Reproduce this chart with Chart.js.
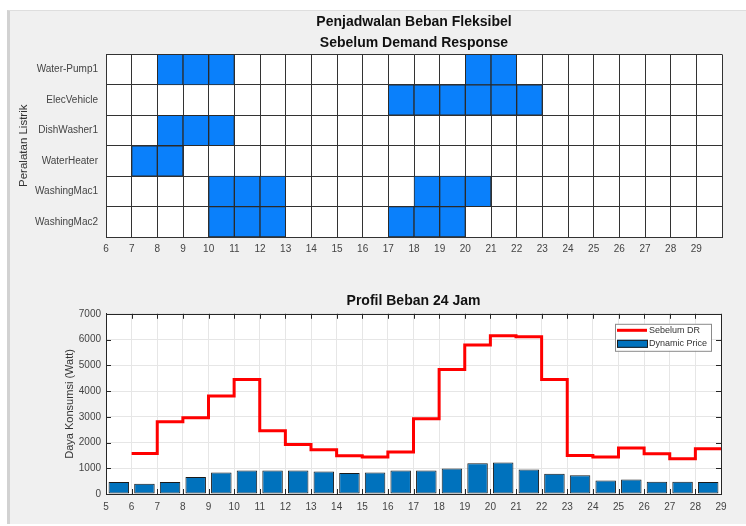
<!DOCTYPE html>
<html><head><meta charset="utf-8">
<script src="https://cdn.jsdelivr.net/npm/chart.js@4.4.1/dist/chart.umd.min.js"></script>
<style>
html,body{margin:0;padding:0;background:#fff;width:746px;height:526px;overflow:hidden;}
#panel{position:absolute;left:7px;top:10px;width:739px;height:514px;background:#f0f0f0;border-left:3px solid #d2d2d2;border-top:1px solid #dedede;box-sizing:border-box;}
#c1{position:absolute;left:0;top:0;}
#c2{position:absolute;left:0;top:263px;}
</style></head><body>
<div id="panel"></div>
<canvas id="c1" width="746" height="263"></canvas>
<canvas id="c2" width="746" height="263"></canvas>
<script>
// ---- Top chart data (schedule) ----
const scheduleTitle = ['Penjadwalan Beban Fleksibel', 'Sebelum Demand Response'];
const appliances = ['Water-Pump1', 'ElecVehicle', 'DishWasher1', 'WaterHeater', 'WashingMac1', 'WashingMac2'];
const waterPump1Hours = [8, 9, 10, 20, 21];
const elecVehicleHours = [17, 18, 19, 20, 21, 22];
const dishWasher1Hours = [8, 9, 10];
const waterHeaterHours = [7, 8];
const washingMac1Hours = [10, 11, 12, 18, 19, 20];
const washingMac2Hours = [10, 11, 12, 17, 18, 19];
const scheduleMin = 6, scheduleMax = 30;

// ---- Bottom chart data (load profile) ----
const profileTitle = 'Profil Beban 24 Jam';
const profileHours = [6, 7, 8, 9, 10, 11, 12, 13, 14, 15, 16, 17, 18, 19, 20, 21, 22, 23, 24, 25, 26, 27, 28];
const sebelumDR = [1570, 2810, 2960, 3810, 4450, 2460, 1920, 1720, 1490, 1440, 1630, 2920, 4840, 5790, 6150, 6110, 4450, 1500, 1440, 1790, 1560, 1370, 1760];
const priceHours = [5, 6, 7, 8, 9, 10, 11, 12, 13, 14, 15, 16, 17, 18, 19, 20, 21, 22, 23, 24, 25, 26, 27, 28];
const dynamicPrice = [470, 400, 470, 660, 840, 910, 910, 910, 870, 820, 840, 910, 910, 990, 1190, 1220, 950, 790, 730, 520, 560, 480, 480, 470];

const FONT = "'Liberation Sans', Arial, Helvetica, sans-serif";
Chart.defaults.font.family = FONT;
Chart.defaults.color = '#333';

const whiteArea = {
  id: 'whiteArea',
  beforeDraw(chart) {
    const { ctx, chartArea: a } = chart;
    ctx.save();
    ctx.fillStyle = '#ffffff';
    ctx.fillRect(a.left, a.top, a.right - a.left, a.bottom - a.top);
    ctx.restore();
  }
};

// build floating-bar cells
const scheduleHours = [waterPump1Hours, elecVehicleHours, dishWasher1Hours, waterHeaterHours, washingMac1Hours, washingMac2Hours];
const cellData = [];
appliances.forEach((name, i) => {
  scheduleHours[i].forEach(h => cellData.push({ x: [h, h + 1], y: name }));
});

new Chart(document.getElementById('c1'), {
  type: 'bar',
  data: {
    labels: appliances,
    datasets: [{
      label: 'Jadwal',
      data: cellData,
      backgroundColor: '#0a80fb',
      borderColor: '#2a2a2a',
      borderWidth: 1,
      borderSkipped: false,
      barPercentage: 1,
      categoryPercentage: 1
    }]
  },
  options: {
    indexAxis: 'y',
    responsive: false,
    animation: false,
    layout: { padding: { left: 0, right: 24, top: 0, bottom: 0 } },
    plugins: {
      legend: { display: false },
      tooltip: { enabled: false },
      title: {
        display: true, fullSize: false, text: scheduleTitle, color: '#111',
        font: { size: 14, weight: 'bold', lineHeight: 1.48 },
        padding: { top: 12, bottom: 1 }
      }
    },
    scales: {
      x: {
        type: 'linear', min: scheduleMin, max: scheduleMax, offset: false,
        ticks: { stepSize: 1, autoSkip: false, maxRotation: 0, padding: 6, font: { size: 10 }, color: '#444',
          callback: v => (v === scheduleMax ? '' : String(v)) },
        grid: { color: '#333', drawTicks: false, offset: false },
        border: { color: '#333' },
        afterFit(s) { s.height = 26; }
      },
      y: {
        type: 'category', offset: true,
        grid: { offset: true, color: '#333', drawTicks: false },
        border: { color: '#333' },
        ticks: { padding: 8, font: { size: 10 }, color: '#444' },
        title: { display: true, text: 'Peralatan Listrik', font: { size: 11.5 }, color: '#333', padding: { top: 17, bottom: 0 } },
        afterFit(s) { s.width = 106; }
      }
    }
  },
  plugins: [whiteArea]
});

// ---- bottom chart ----
const lineData = profileHours.map((h, i) => ({ x: h, y: sebelumDR[i] }));
lineData.push({ x: profileHours[profileHours.length - 1] + 1, y: sebelumDR[sebelumDR.length - 1] });
const barData = priceHours.map((h, i) => ({ x: h + 0.5, y: dynamicPrice[i] }));

const boxTicks = {
  id: 'boxTicks',
  afterDraw(chart) {
    const { ctx, chartArea: a, scales } = chart;
    ctx.save();
    ctx.strokeStyle = '#262626';
    ctx.lineWidth = 1;
    ctx.beginPath();
    scales.x.ticks.forEach(t => {
      const px = Math.round(scales.x.getPixelForValue(t.value)) + 0.5;
      ctx.moveTo(px, a.top); ctx.lineTo(px, a.top + 5);
      ctx.moveTo(px, a.bottom); ctx.lineTo(px, a.bottom - 5);
    });
    scales.y.ticks.forEach(t => {
      const py = Math.round(scales.y.getPixelForValue(t.value)) + 0.5;
      ctx.moveTo(a.left, py); ctx.lineTo(a.left + 5, py);
      ctx.moveTo(a.right, py); ctx.lineTo(a.right - 5, py);
    });
    ctx.stroke();
    ctx.strokeRect(Math.round(a.left) + 0.5, Math.round(a.top) + 0.5, Math.round(a.right - a.left), Math.round(a.bottom - a.top));
    ctx.restore();
  }
};

const legendBox = {
  id: 'legendBox',
  afterDraw(chart) {
    const { ctx, chartArea: a } = chart;
    const ds = chart.data.datasets;
    const right = a.right - 10, top = a.top + 10, w = 96, h = 27;
    const left = right - w;
    ctx.save();
    ctx.fillStyle = '#fff';
    ctx.fillRect(left, top, w, h);
    ctx.strokeStyle = '#8a8a8a';
    ctx.lineWidth = 1;
    ctx.strokeRect(left + 0.5, top + 0.5, w, h);
    ctx.strokeStyle = ds[0].borderColor;
    ctx.lineWidth = 3;
    ctx.beginPath();
    ctx.moveTo(left + 2, top + 6.5); ctx.lineTo(left + 32, top + 6.5);
    ctx.stroke();
    ctx.fillStyle = ds[1].backgroundColor;
    ctx.fillRect(left + 2, top + 16, 31, 8);
    ctx.strokeStyle = '#1a1a1a';
    ctx.lineWidth = 1;
    ctx.strokeRect(left + 2.5, top + 16.5, 30, 7);
    ctx.fillStyle = '#333';
    ctx.font = '9px ' + FONT;
    ctx.textBaseline = 'middle';
    ctx.textAlign = 'left';
    ctx.fillText(ds[0].label, left + 34, top + 7);
    ctx.fillText(ds[1].label, left + 34, top + 20);
    ctx.restore();
  }
};

new Chart(document.getElementById('c2'), {
  data: {
    datasets: [
      { type: 'line', label: 'Sebelum DR', data: lineData, stepped: 'before', borderColor: '#ff0000', borderWidth: 3,
        pointRadius: 0, fill: false, order: 0 },
      { type: 'bar', label: 'Dynamic Price', data: barData, backgroundColor: '#0072bd', borderColor: '#1a1a1a',
        borderWidth: 1, borderSkipped: false, barPercentage: 0.8, categoryPercentage: 1, order: 1 }
    ]
  },
  options: {
    responsive: false,
    animation: false,
    layout: { padding: { left: 0, right: 25, top: 0, bottom: 0 } },
    plugins: {
      legend: { display: false },
      tooltip: { enabled: false },
      title: {
        display: true, fullSize: false, text: profileTitle, color: '#111',
        font: { size: 14, weight: 'bold', lineHeight: 1.2 },
        padding: { top: 30, bottom: 4 }
      }
    },
    scales: {
      x: {
        type: 'linear', min: 5, max: 29, offset: false,
        ticks: { stepSize: 1, autoSkip: false, maxRotation: 0, padding: 7, font: { size: 10 }, color: '#444',
          callback: v => String(v) },
        grid: { color: '#e6e6e6', drawTicks: false, offset: false },
        border: { color: '#262626' },
        afterFit(s) { s.height = 32; }
      },
      y: {
        type: 'linear', min: 0, max: 7000,
        ticks: { stepSize: 1000, padding: 5, font: { size: 10 }, color: '#444', callback: v => String(v) },
        grid: { color: '#e6e6e6', drawTicks: false },
        border: { color: '#262626' },
        title: { display: true, text: 'Daya Konsumsi (Watt)', font: { size: 11 }, color: '#333', padding: { top: 63, bottom: 0 } },
        afterFit(s) { s.width = 106; }
      }
    }
  },
  plugins: [whiteArea, boxTicks, legendBox]
});
</script></body></html>
